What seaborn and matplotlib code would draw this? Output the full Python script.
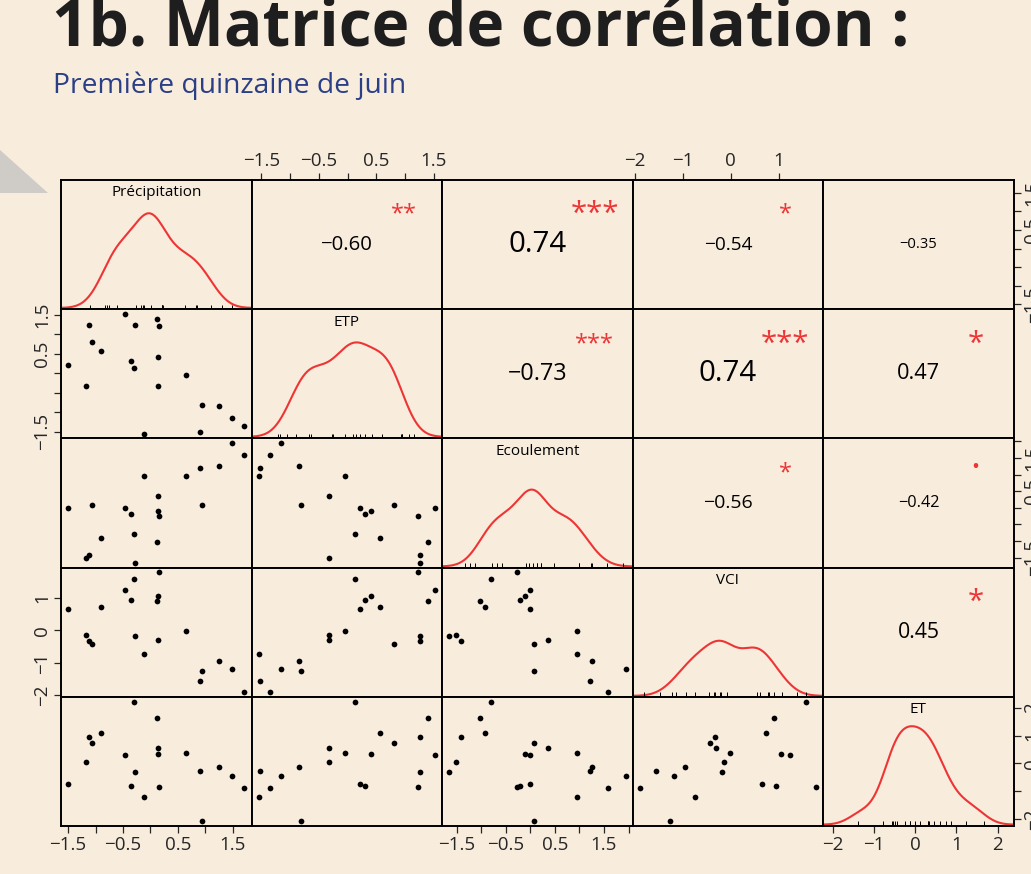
# ==========================================
# Matrice de corrélation (chart.Correlation style)
# seaborn | matplotlib
# ==========================================

import numpy as np
import pandas as pd
import matplotlib
matplotlib.use("Agg")
import matplotlib.pyplot as plt
from matplotlib.patches import Polygon
import seaborn as sns

sns.set_style("white")
plt.rcParams['font.family'] = ['Open Sans', 'DejaVu Sans']


# ==========================================
# 1. Data (standardised values, 20 observations)
# ==========================================

variables = ['Précipitation', 'ETP', 'Ecoulement', 'VCI', 'ET']

precipitation = [-1.50, -1.17, -1.11, -1.07, -0.90, -0.47, -0.35, -0.28, -0.30, -0.12,
                 0.12, 0.13, 0.13, 0.15, 0.65, 0.90, 0.93, 1.25, 1.49, 1.71]
etp = [0.21, -0.33, 1.25, 0.80, 0.57, 1.52, 0.31, 1.25, 0.13, -1.55,
       1.40, -0.32, 0.41, 1.22, -0.05, -1.52, -0.81, -0.85, -1.16, -1.35]
ecoulement = [0.00, -1.52, -1.41, 0.08, -0.92, -0.01, -0.20, -1.65, -0.80, 0.95,
              -1.02, 0.37, -0.10, -0.26, 0.95, 1.21, 0.08, 1.25, 1.94, 1.59]
vci = [0.66, -0.15, -0.32, -0.43, 0.73, 1.23, 0.94, -0.19, 1.57, -0.74,
       0.90, -0.30, 1.04, 1.78, -0.02, -1.55, -1.26, -0.96, -1.18, -1.90]
et = [-0.73, 0.04, 0.95, 0.74, 1.10, 0.31, -0.80, -0.30, 2.22, -1.19,
      1.63, 0.54, 0.34, -0.85, 0.36, -0.28, -2.07, -0.13, -0.46, -0.89]

data = pd.DataFrame({'Précipitation': precipitation, 'ETP': etp,
                     'Ecoulement': ecoulement, 'VCI': vci, 'ET': et})

# correlations printed in the upper panels (row, column)
corr_pairs = [(0, 1), (0, 2), (0, 3), (0, 4), (1, 2), (1, 3), (1, 4), (2, 3), (2, 4), (3, 4)]
corr_values = [-0.60, 0.74, -0.54, -0.35, -0.73, 0.74, 0.47, -0.56, -0.42, 0.45]
corr_stars = ['**', '***', '*', '', '***', '***', '*', '*', '.', '*']

# axis ticks and labels
ticks = {
    'Précipitation': [-1.5, -1, -0.5, 0, 0.5, 1, 1.5],
    'ETP': [-1.5, -1, -0.5, 0, 0.5, 1, 1.5],
    'Ecoulement': [-1.5, -1, -0.5, 0, 0.5, 1, 1.5, 2],
    'VCI': [-2, -1, 0, 1],
    'ET': [-2, -1, 0, 1, 2],
}
xtick_labels = {
    'Précipitation': ['−1.5', '', '−0.5', '', '0.5', '', '1.5'],
    'ETP': ['−1.5', '', '−0.5', '', '0.5', '', '1.5'],
    'Ecoulement': ['−1.5', '', '−0.5', '', '0.5', '', '1.5', ''],
    'VCI': ['−2', '−1', '0', '1'],
    'ET': ['−2', '−1', '0', '1', '2'],
}
ytick_labels = {
    'Précipitation': ['−1.5', '', '', '', '0.5', '', '1.5'],
    'ETP': ['−1.5', '', '', '', '0.5', '', '1.5'],
    'Ecoulement': ['−1.5', '', '', '', '0.5', '', '1.5', ''],
    'VCI': ['−2', '−1', '0', '1'],
    'ET': ['−2', '', '0', '1', '2'],
}

# height of the density peak as share of the diagonal panel
peak_share = [0.74, 0.74, 0.60, 0.43, 0.77]


# ==========================================
# 2. Helpers
# ==========================================

bg = '#F8ECDD'
red = '#EE3535'
W, H = 1031, 874


def pretty_bounds(lo, hi, n):
    # R pretty(): outer bounds of the "nice" breaks
    cell = (hi - lo) / n
    base = 10 ** np.floor(np.log10(cell))
    unit = base
    if 2 * base - cell < 1.5 * (cell - unit):
        unit = 2 * base
        if 5 * base - cell < 2.75 * (cell - unit):
            unit = 5 * base
            if 10 * base - cell < 1.5 * (cell - unit):
                unit = 10 * base
    return np.floor(lo / unit + 1e-7) * unit, np.ceil(hi / unit - 1e-7) * unit


def hist_range(x):
    # x range used by hist(breaks = "FD") in the diagonal panels (for the rug)
    iqr = x.quantile(0.75) - x.quantile(0.25)
    nclass = int(np.ceil((x.max() - x.min()) / (2 * iqr * len(x) ** (-1 / 3))))
    b0, b1 = pretty_bounds(x.min(), x.max(), nclass)
    return b0 - 0.04 * (b1 - b0), b1 + 0.04 * (b1 - b0)


# R pairs(): range of each variable extended by 4 %
ranges = {}
for v in variables:
    lo, hi = data[v].min(), data[v].max()
    d = hi - lo
    ranges[v] = (lo - 0.04 * d, hi + 0.04 * d)


# ==========================================
# 3. Figure
# ==========================================

fig, axes = plt.subplots(5, 5, figsize=(W / 100, H / 100), dpi=100)
fig.patch.set_facecolor(bg)
fig.subplots_adjust(left=61 / W, right=1013.7 / W, bottom=1 - 826 / H, top=1 - 180 / H,
                    wspace=0, hspace=0)

for i, yv in enumerate(variables):
    for j, xv in enumerate(variables):
        ax = axes[i, j]
        ax.set_facecolor(bg)

        if i > j:
            # scatter panels
            sns.scatterplot(x=data[xv], y=data[yv], ax=ax, color='black', s=17, linewidth=0)
        elif i == j:
            # density (own support, like plot(density(x))) + rug + name
            x = data[xv]
            sd = x.std()
            iqr = x.quantile(0.75) - x.quantile(0.25)
            bw = 0.9 * min(sd, iqr / 1.34) / sd
            dax = ax.inset_axes([0, 0, 1, 1])
            sns.kdeplot(x=x, ax=dax, color=red, linewidth=1.5, bw_adjust=bw, cut=3)
            line = dax.lines[0]
            dax.set_xlim(min(line.get_xdata()), max(line.get_xdata()))
            dax.set_ylim(-0.005, max(line.get_ydata()) / peak_share[i])
            dax.set_xlabel('')
            dax.set_ylabel('')
            dax.set_xticks([])
            dax.set_yticks([])
            dax.set_axis_off()

            rax = ax.inset_axes([0, 0, 1, 1])
            sns.rugplot(x=x, ax=rax, height=0.035, color='black', linewidth=0.7)
            rax.set_xlim(hist_range(x))
            rax.set_xlabel('')
            rax.set_ylabel('')
            rax.set_xticks([])
            rax.set_yticks([])
            rax.set_axis_off()

            ax.text(0.5, 0.9, xv, transform=ax.transAxes, ha='center', va='center',
                    fontsize=11, color='black', zorder=10)
        else:
            # correlation text
            k = corr_pairs.index((i, j))
            r = corr_values[k]
            txt = f"{r:.2f}".replace('-', '−')
            base = 106 / len(txt)
            ax.text(0.5, 0.5, txt, transform=ax.transAxes, ha='center', va='center',
                    fontsize=base * (abs(r) + 0.3) / 1.3, color='black')
            if corr_stars[k] == '.':
                ax.text(0.8, 0.77, '.', transform=ax.transAxes, ha='center', va='baseline',
                        fontsize=base * 1.3, color=red)
            elif corr_stars[k]:
                ax.text(0.8, 0.73, corr_stars[k], transform=ax.transAxes, ha='center',
                        va='center', fontsize=base * 0.8, color=red)

        ax.set_xlim(ranges[xv])
        ax.set_ylim(ranges[yv])
        ax.set_xlabel('')
        ax.set_ylabel('')
        ax.set_xticks(ticks[xv])
        ax.set_xticklabels(xtick_labels[xv])
        ax.set_yticks(ticks[yv])
        ax.set_yticklabels(ytick_labels[yv], rotation=90, va='center')

        ax.tick_params(direction='out', length=5, width=0.9, labelsize=13.5, pad=2,
                       top=False, bottom=False, left=False, right=False,
                       labeltop=False, labelbottom=False, labelleft=False, labelright=False)
        if i == 0 and j % 2 == 1:
            ax.tick_params(top=True, labeltop=True)
        if i == 4 and j % 2 == 0:
            ax.tick_params(bottom=True, labelbottom=True)
        if j == 0 and i % 2 == 1:
            ax.tick_params(left=True, labelleft=True)
        if j == 4 and i % 2 == 0:
            ax.tick_params(right=True, labelright=True)

        for s in ax.spines.values():
            s.set_linewidth(1.4)
            s.set_color('black')
            s.set_zorder(10)


# ==========================================
# 4. Titles and decoration
# ==========================================

fig.text(52 / W, 1 - 45 / H, "1b. Matrice de corrélation :", fontsize=46,
         fontweight='bold', color='#1E1E1E', va='baseline')
fig.text(53 / W, 1 - 93 / H, "Première quinzaine de juin", fontsize=20.3,
         color='#2B3F86', va='baseline')

tri = Polygon([(0, 1 - 150 / H), (48 / W, 1 - 193 / H), (0, 1 - 193 / H)],
              closed=True, transform=fig.transFigure, facecolor='#CFCBC6', edgecolor='none')
fig.patches.append(tri)

plt.savefig("out.png", dpi=100, facecolor=bg)
